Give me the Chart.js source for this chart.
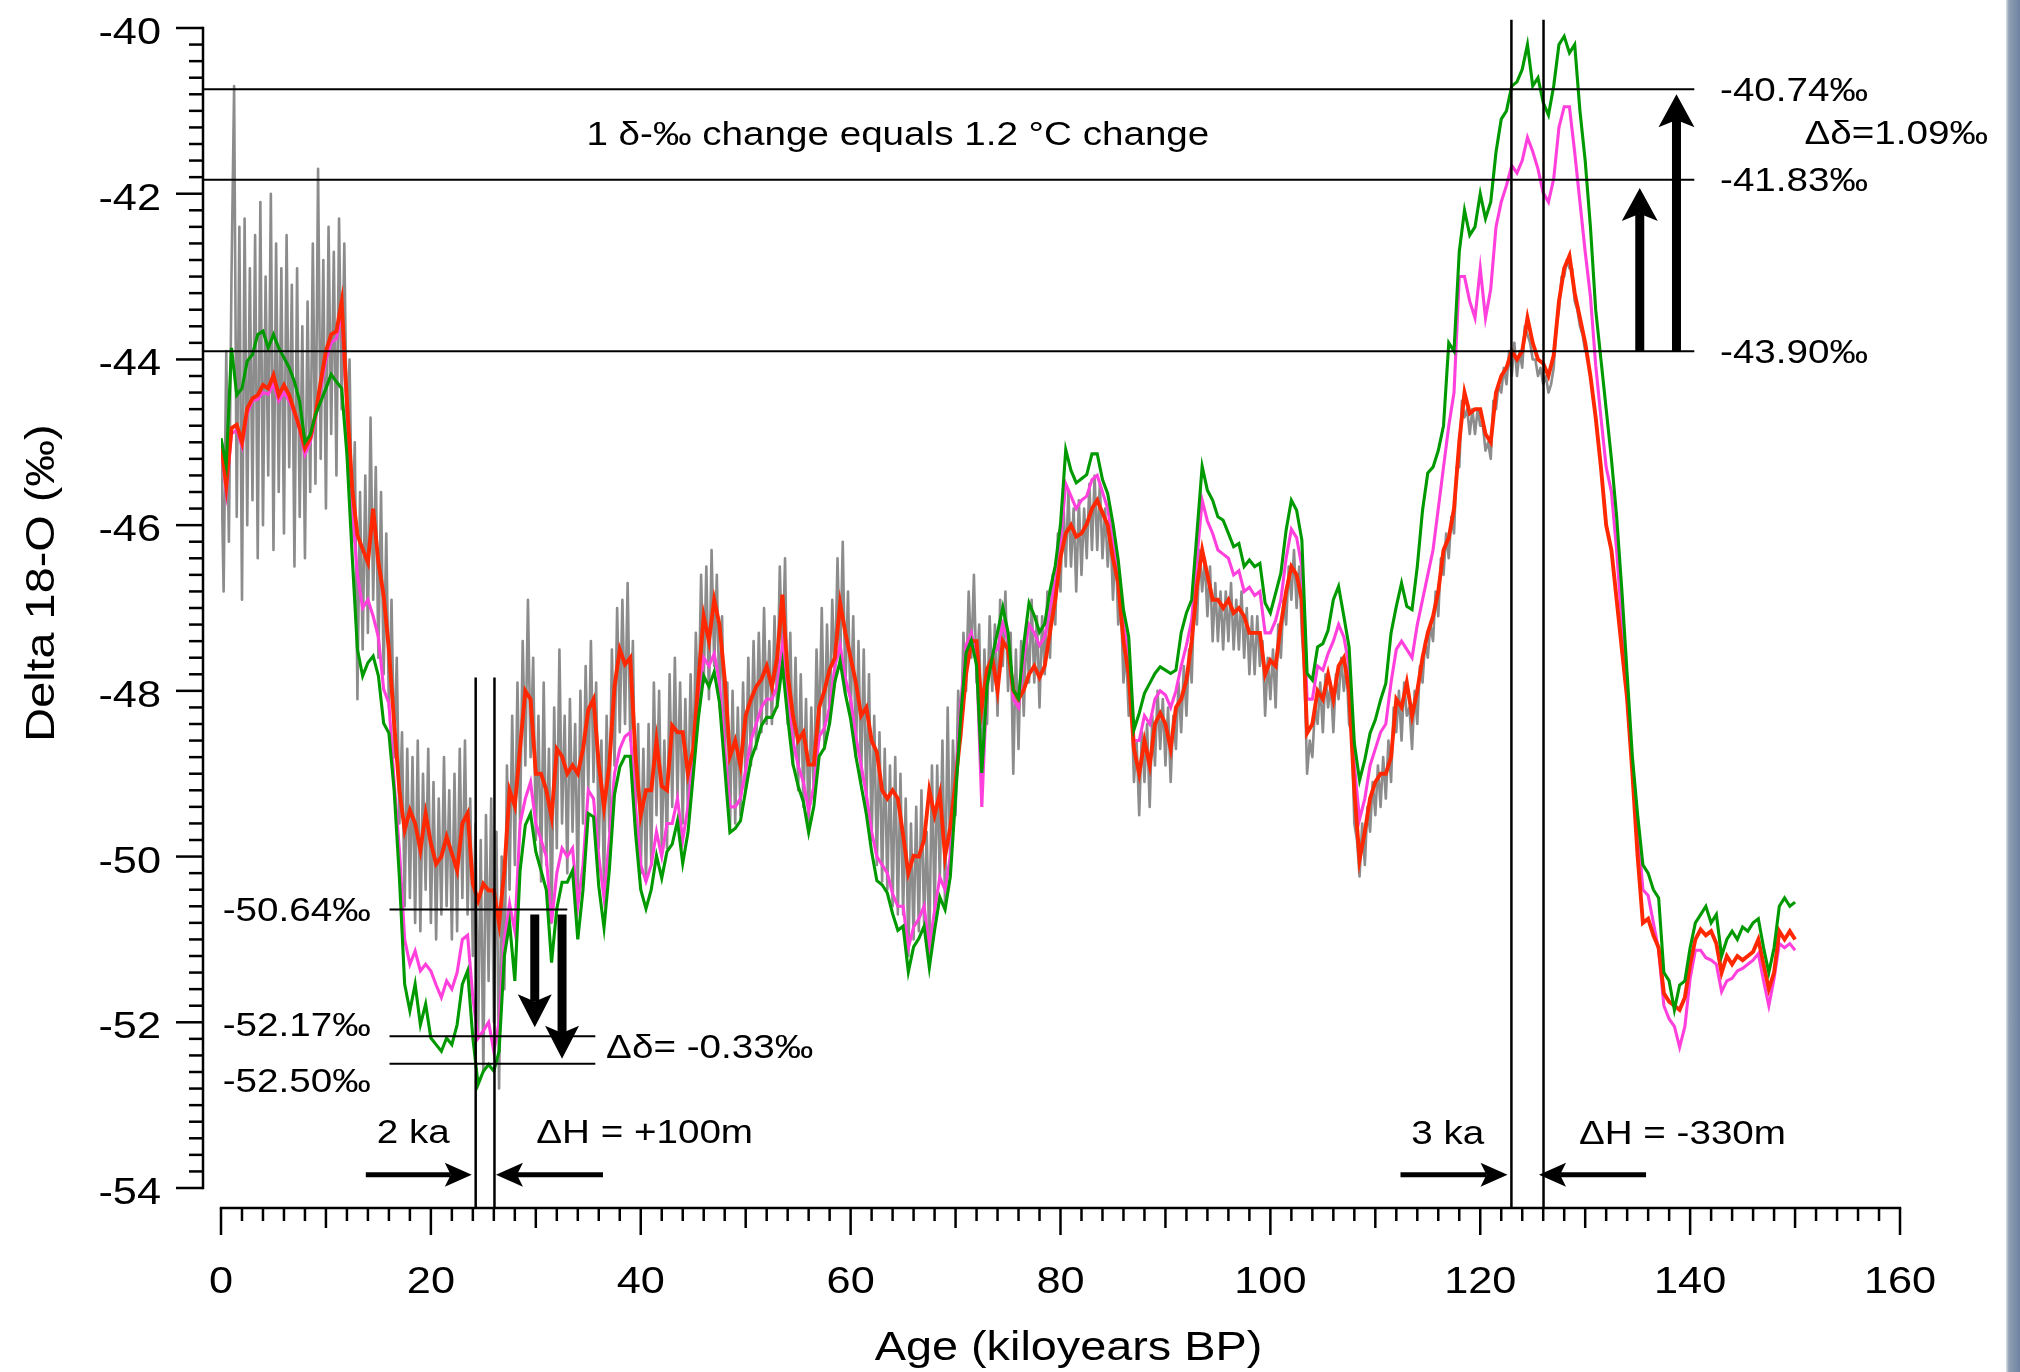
<!DOCTYPE html>
<html>
<head>
<meta charset="utf-8">
<title>Delta 18-O</title>
<script src="https://cdn.jsdelivr.net/npm/chart.js@4.4.1/dist/chart.umd.min.js"></script>
<style>
  html, body { margin: 0; padding: 0; background: #fff; }
  #wrap { position: relative; width: 2020px; height: 1372px; overflow: hidden; }
  #edge {
    position: absolute; top: 0; right: 0; width: 14px; height: 1372px;
    background: linear-gradient(to right, #dde2e8 0px, #8f9fb4 3px, #6f83a0 100%);
  }
</style>
</head>
<body>
<div id="wrap">
  <canvas id="deltaChart" width="2020" height="1372"></canvas>
  <div id="edge"></div>
</div>
<script>
// Amostragem das curvas (ka entre pontos)
const AGE_STEP = 0.5;
const RAW_STEP = 0.25;

// Curva vermelha (0 a 150 ka)
const redValues = [
  -45.0, -45.52, -44.83, -44.79, -45.0, -44.59, -44.47, -44.43, -44.31, -44.35,
  -44.19, -44.43, -44.31, -44.43, -44.63, -44.83, -45.07, -44.95, -44.67, -44.27,
  -43.9, -43.7, -43.66, -43.3, -44.51, -45.56, -46.12, -46.29, -46.45, -45.8,
  -46.45, -46.85, -47.5, -48.39, -49.2, -49.68, -49.44, -49.6, -49.92, -49.48,
  -49.84, -50.09, -50.0, -49.76, -49.96, -50.17, -49.6, -49.48, -50.33, -50.53,
  -50.33, -50.41, -50.41, -50.81, -50.17, -49.2, -49.39, -48.69, -48.0, -48.1,
  -49.0, -49.0, -49.2, -49.52, -48.7, -48.79, -49.0, -48.9, -49.0, -48.7,
  -48.23, -48.1, -48.88, -49.4, -48.9, -47.95, -47.5, -47.68, -47.6, -48.79,
  -49.5, -49.2, -49.2, -48.6, -49.15, -49.2, -48.42, -48.5, -48.5, -49.0,
  -48.7, -47.86, -47.1, -47.4, -46.9, -47.2, -47.86, -48.79, -48.6, -48.9,
  -48.3, -48.1, -47.95, -47.86, -47.7, -47.95, -47.6, -46.84, -47.8, -48.3,
  -48.6, -48.5, -48.89, -48.89, -48.2, -48.0, -47.74, -47.6, -46.94, -47.3,
  -47.6, -47.9, -48.3, -48.2, -48.6, -48.74, -49.2, -49.3, -49.2, -49.3,
  -49.74, -50.2, -49.99, -50.0, -49.8, -49.2, -49.5, -49.24, -50.0, -49.64,
  -49.1, -48.5, -47.8, -47.4, -47.4, -48.2, -47.74, -47.6, -48.0, -47.4,
  -47.5, -47.99, -48.1, -47.99, -47.8, -47.7, -47.84, -47.7, -47.29, -46.9,
  -46.39, -46.1, -46.0, -46.14, -46.1, -45.99, -45.8, -45.7, -45.85, -46.0,
  -46.4, -46.7, -47.4, -47.8, -48.7, -49.0, -48.6, -48.9, -48.4, -48.27,
  -48.4, -48.7, -48.2, -48.1, -47.87, -47.4, -46.74, -46.3, -46.6, -46.9,
  -46.9, -47.0, -46.9, -47.06, -47.0, -47.1, -47.3, -47.3, -47.3, -47.8,
  -47.63, -47.7, -47.2, -46.8, -46.5, -46.6, -46.9, -48.51, -48.4, -48.0,
  -48.1, -47.8, -48.1, -47.7, -47.6, -48.0, -49.2, -50.04, -49.7, -49.3,
  -49.1, -49.0, -49.0, -48.8, -48.1, -48.2, -47.9, -48.3, -48.0, -47.6,
  -47.3, -47.1, -46.8, -46.3, -46.15, -45.8, -45.0, -44.4, -44.65, -44.6,
  -44.6, -44.9, -45.0, -44.4, -44.2, -44.1, -43.9, -44.0, -43.9, -43.5,
  -43.8, -44.0, -44.05, -44.2, -43.95, -43.3, -42.9, -42.75, -43.2, -43.5,
  -43.8, -44.2, -44.7, -45.3, -46.0, -46.3, -46.9, -47.5, -48.1, -49.0,
  -50.0, -50.8, -50.75, -50.95, -51.1, -51.65, -51.75, -51.8, -51.85, -51.7,
  -51.3, -51.0, -50.88, -50.95, -50.9, -51.05, -51.4, -51.2, -51.3, -51.2,
  -51.25, -51.2, -51.15, -51.0, -51.3, -51.6, -51.4, -50.9, -51.0, -50.9,
  -51.0
];

// Curva rosa (0 a 150 ka)
const pinkValues = [
  -45.05, -45.6, -44.9, -44.85, -45.05, -44.65, -44.5, -44.48, -44.4, -44.42,
  -44.3, -44.5, -44.4, -44.5, -44.65, -44.85, -45.15, -45.0, -44.72, -44.35,
  -44.0, -43.8, -43.75, -43.45, -44.6, -45.8, -46.6, -47.0, -46.9, -47.1,
  -47.35, -47.98, -48.15, -49.1, -49.92, -51.0, -51.3, -51.14, -51.38, -51.3,
  -51.38, -51.55, -51.7, -51.5, -51.6, -51.4, -51.0, -50.95, -51.7, -52.19,
  -52.1, -52.0, -52.35, -52.0, -51.0, -50.57, -50.9, -49.6, -49.3, -49.1,
  -49.6, -49.8, -50.0, -50.8, -50.2, -49.9, -50.0, -49.9, -50.6, -50.1,
  -49.2, -49.3, -50.0, -50.5, -49.8, -49.0, -48.7, -48.55, -48.5, -49.4,
  -50.1, -50.3, -50.1, -49.7, -50.0, -49.6, -49.6, -49.3, -49.8, -49.4,
  -48.8, -48.1, -47.6, -47.7, -47.55, -47.9, -48.7, -49.4, -49.4, -49.3,
  -48.95, -48.6, -48.4, -48.2, -48.1, -48.1, -47.95, -47.45, -48.1, -48.6,
  -48.9, -49.1, -49.45, -49.15, -48.55, -48.45, -48.2, -47.7, -47.45, -47.85,
  -48.1, -48.55, -48.9, -49.25, -49.7, -50.0, -50.1, -50.2, -50.45, -50.6,
  -50.6, -51.1, -50.85, -50.75, -50.6, -51.1, -50.65, -50.25, -50.4, -50.0,
  -49.1, -48.15, -47.45, -47.3, -47.6, -49.4, -47.9, -47.55, -47.5, -47.2,
  -47.4, -48.1, -48.2, -47.6, -47.2, -47.3, -47.45, -47.35, -47.0, -46.7,
  -46.2, -45.5, -45.65, -45.8, -45.7, -45.65, -45.45, -45.4, -45.6, -45.8,
  -46.2, -46.6, -47.2, -47.55, -48.6, -48.6, -48.3, -48.4, -48.1, -48.0,
  -48.05, -48.2, -48.0, -47.7, -47.45, -47.15, -46.4, -45.7, -45.95, -46.1,
  -46.3, -46.35, -46.4, -46.6, -46.55, -46.8, -46.75, -46.85, -46.8, -47.3,
  -47.3, -47.15, -46.9, -46.4, -46.05, -46.15, -46.5, -48.1, -48.1, -47.7,
  -47.75, -47.55, -47.4, -47.2, -47.35, -47.7, -48.9, -49.55, -49.3, -48.9,
  -48.7, -48.5, -48.4, -47.9, -47.5, -47.4, -47.5, -47.6, -47.2, -46.9,
  -46.6, -46.3, -45.8, -45.3, -44.8, -44.4, -43.0, -43.0, -43.3, -43.5,
  -42.9, -43.5, -43.15, -42.4, -42.1, -41.9, -41.66, -41.75, -41.6, -41.32,
  -41.49, -41.7, -41.99, -42.1, -41.82, -41.2, -40.95, -40.95, -41.5, -42.1,
  -42.7, -43.24, -44.07, -44.7, -45.3, -45.6, -46.31, -47.2, -48.1, -48.9,
  -49.64, -50.4, -50.47, -50.8, -51.13, -51.8, -51.96, -52.05, -52.3, -52.05,
  -51.47, -51.13, -51.13, -51.22, -51.25, -51.3, -51.63, -51.5, -51.47, -51.38,
  -51.35, -51.3, -51.25, -51.17, -51.5, -51.8, -51.47, -51.05, -51.1, -51.05,
  -51.13
];

// Curva verde (0 a 150 ka)
const greenValues = [
  -44.95, -45.28, -43.86, -44.43, -44.35, -44.02, -43.94, -43.7, -43.66, -43.86,
  -43.7, -43.86, -43.98, -44.1, -44.27, -44.51, -45.0, -44.91, -44.67, -44.51,
  -44.35, -44.18, -44.27, -44.35, -45.15, -46.37, -47.5, -47.82, -47.66, -47.58,
  -47.82, -48.39, -48.51, -49.2, -50.25, -51.54, -51.86, -51.54, -52.03, -51.78,
  -52.19, -52.27, -52.35, -52.19, -52.27, -52.03, -51.54, -51.38, -52.19, -52.75,
  -52.59, -52.51, -52.59, -52.35, -51.2, -50.8, -51.5, -50.17, -49.62, -49.48,
  -49.94, -50.17, -50.4, -51.28, -50.63, -50.31, -50.31, -50.17, -51.0, -50.4,
  -49.48, -49.52, -50.36, -50.86, -50.17, -49.25, -48.92, -48.79, -48.79, -49.71,
  -50.4, -50.63, -50.4, -49.99, -50.26, -49.94, -49.85, -49.57, -50.08, -49.71,
  -49.02, -48.32, -47.82, -47.95, -47.77, -48.14, -48.92, -49.71, -49.66, -49.57,
  -49.2, -48.83, -48.65, -48.42, -48.32, -48.32, -48.18, -47.68, -48.32, -48.88,
  -49.15, -49.34, -49.71, -49.39, -48.79, -48.69, -48.39, -47.89, -47.64, -48.04,
  -48.34, -48.79, -49.14, -49.49, -49.94, -50.29, -50.34, -50.44, -50.69, -50.89,
  -50.84, -51.39, -51.09, -50.99, -50.84, -51.34, -50.89, -50.49, -50.64, -50.24,
  -49.29, -48.29, -47.54, -47.39, -47.69, -48.99, -47.94, -47.59, -47.29, -46.99,
  -47.29, -47.99, -48.09, -47.44, -46.94, -47.09, -47.29, -47.19, -46.79, -46.49,
  -45.99, -45.09, -45.34, -45.49, -45.44, -45.39, -45.14, -45.14, -45.45, -45.62,
  -45.98, -46.42, -47.02, -47.35, -48.47, -48.27, -48.03, -47.91, -47.79, -47.71,
  -47.75, -47.79, -47.75, -47.3, -47.06, -46.9, -46.1, -45.29, -45.58, -45.7,
  -45.9, -45.94, -46.1, -46.26, -46.22, -46.5, -46.42, -46.5, -46.46, -46.94,
  -47.06, -46.82, -46.58, -46.06, -45.7, -45.82, -46.18, -47.79, -47.87, -47.47,
  -47.43, -47.27, -46.9, -46.74, -47.1, -47.47, -48.63, -49.08, -48.83, -48.51,
  -48.35, -48.11, -47.91, -47.3, -46.98, -46.7, -46.98, -47.02, -46.5, -45.82,
  -45.37, -45.3, -45.1, -44.8, -43.8, -43.9, -42.7, -42.2, -42.5, -42.4,
  -42.0, -42.3, -42.1, -41.5, -41.1, -41.0, -40.7, -40.65, -40.5, -40.2,
  -40.7, -40.6, -40.9, -41.05, -40.7, -40.2, -40.1, -40.3, -40.2, -41.0,
  -41.6, -42.4, -43.4, -44.0, -44.6, -45.2, -45.9, -46.8, -47.8, -48.8,
  -49.5, -50.1, -50.2, -50.4, -50.5, -51.4, -51.5, -51.85, -51.55, -51.5,
  -51.1, -50.8, -50.7, -50.6, -50.8, -50.7, -51.2, -51.0, -50.9, -51.0,
  -50.85, -50.9, -50.8, -50.75, -51.1, -51.4, -51.1, -50.6, -50.5, -50.6,
  -50.55
];

// Curva cinza, dados brutos (0 a 130 ka)
const grayValues = [
  -45.0, -46.8, -43.9, -46.2, -43.0, -40.7, -45.9, -42.4, -46.9, -42.3, -46.0, -42.9, -45.7, -42.5, -46.4, -42.1, -46.0, -43.0, -45.4, -42.0,
  -46.3, -42.6, -45.6, -42.9, -46.1, -42.5, -45.3, -43.1, -46.5, -42.9, -45.9, -43.6, -46.4, -43.3, -45.6, -42.6, -45.5, -41.7, -45.2, -42.8,
  -45.8, -42.4, -44.9, -42.7, -45.4, -42.3, -44.6, -42.6, -45.0, -44.0, -46.2, -45.0, -48.1, -45.6, -47.5, -45.4, -47.3, -44.7, -46.9, -45.3,
  -47.6, -45.6, -47.8, -46.1, -48.2, -46.9, -48.8, -47.6, -49.6, -48.5, -50.6, -48.7, -50.5, -48.8, -50.8, -48.6, -50.9, -49.0, -50.4, -48.7,
  -50.8, -49.1, -51.0, -49.3, -50.7, -48.8, -50.6, -49.2, -51.0, -49.0, -50.9, -48.7, -50.5, -48.6, -50.7, -49.3, -51.2, -49.6, -52.2, -49.8,
  -52.6, -49.5, -51.5, -49.3, -52.0, -49.7, -52.8, -50.0, -51.6, -48.9, -50.4, -48.3, -50.1, -47.9, -49.6, -47.4, -48.9, -46.9, -48.8, -47.6,
  -49.8, -48.3, -50.3, -47.9, -50.1, -48.7, -50.8, -48.2, -49.9, -47.5, -49.6, -48.3, -50.2, -48.1, -49.7, -48.4, -50.4, -48.0, -49.6, -47.7,
  -49.2, -47.4, -49.1, -47.9, -49.9, -48.6, -50.4, -48.3, -49.7, -47.5, -48.9, -47.0, -48.5, -46.9, -48.4, -46.7, -48.6, -47.4, -49.6, -48.4,
  -50.2, -48.7, -50.3, -48.4, -50.1, -47.9, -49.5, -48.0, -49.9, -48.6, -49.9, -47.8, -49.4, -47.6, -49.3, -47.9, -49.6, -48.1, -49.5, -47.8,
  -49.0, -47.3, -48.3, -46.6, -47.9, -46.5, -48.1, -46.3, -47.7, -46.6, -48.2, -47.1, -48.9, -47.9, -49.7, -48.0, -49.6, -48.2, -49.5, -47.9,
  -49.2, -47.6, -48.9, -47.4, -48.7, -47.3, -48.5, -47.0, -48.4, -47.4, -48.4, -47.1, -48.2, -46.5, -47.7, -46.4, -48.4, -47.3, -48.9, -47.6,
  -49.2, -47.8, -49.4, -48.1, -49.7, -48.2, -49.3, -47.5, -48.6, -47.0, -48.7, -47.2, -48.4, -46.9, -47.9, -46.4, -47.7, -46.2, -48.0, -46.8,
  -48.3, -47.1, -48.8, -47.4, -49.1, -47.5, -49.4, -47.8, -49.8, -48.3, -50.1, -48.5, -50.3, -48.7, -50.4, -48.9, -50.6, -48.8, -50.7, -49.0,
  -50.7, -49.3, -51.2, -49.6, -51.0, -49.4, -50.9, -49.2, -50.8, -49.7, -51.1, -48.9, -50.7, -48.9, -50.3, -48.6, -50.6, -48.2, -50.2, -48.6,
  -49.5, -48.0, -48.6, -47.3, -48.0, -46.8, -47.6, -46.6, -47.9, -47.2, -49.1, -47.5, -48.4, -47.1, -48.0, -47.2, -48.3, -46.9, -47.7, -46.8,
  -48.0, -47.3, -49.0, -47.5, -48.7, -47.4, -48.3, -47.2, -47.9, -46.9, -47.9, -47.1, -48.2, -47.1, -47.8, -46.8, -47.6, -46.6, -47.2, -46.1,
  -46.8, -45.6, -46.5, -45.6, -46.5, -45.8, -46.8, -45.7, -46.6, -45.8, -46.4, -45.5, -46.3, -45.4, -46.3, -45.5, -46.4, -45.8, -46.5, -46.0,
  -46.9, -46.2, -47.2, -46.9, -47.9, -47.5, -48.3, -48.1, -49.1, -48.6, -49.5, -48.5, -49.1, -48.4, -49.4, -48.3, -48.9, -48.0, -48.7, -48.1,
  -48.9, -48.2, -49.1, -48.3, -48.7, -47.9, -48.5, -47.7, -48.3, -47.5, -47.9, -46.8, -47.2, -46.3, -46.8, -46.4, -47.1, -46.5, -47.4, -46.7,
  -47.4, -46.8, -47.5, -46.8, -47.4, -46.7, -47.5, -46.9, -47.5, -46.8, -47.6, -47.0, -47.8, -47.1, -47.8, -47.1, -47.7, -47.4, -48.3, -47.6,
  -48.1, -47.5, -48.2, -47.2, -47.6, -46.9, -47.2, -46.5, -46.9, -46.3, -47.0, -46.5, -47.3, -47.8, -49.0, -48.6, -48.8, -48.2, -48.4, -47.9,
  -48.5, -47.8, -48.2, -47.9, -48.5, -47.8, -48.1, -47.6, -48.0, -47.7, -48.4, -48.5, -49.6, -49.8, -50.24, -49.6, -50.1, -49.4, -49.7, -49.1,
  -49.5, -48.9, -49.4, -48.8, -49.3, -48.6, -49.1, -48.2, -48.5, -48.0, -48.6, -47.9, -48.3, -48.2, -48.7, -48.0, -48.4, -47.7, -47.9, -47.4,
  -47.6, -47.2, -47.4, -46.8, -47.1, -46.4, -46.6, -46.1, -46.4, -45.9, -46.1, -45.3, -45.3, -44.5, -44.7, -44.6, -44.9, -44.6, -44.9, -44.6,
  -44.8, -44.8, -45.1, -45.0, -45.2, -44.5, -44.6, -44.3, -44.4, -44.1, -44.3, -43.9, -44.2, -43.8, -44.2, -43.9, -44.1, -43.6, -43.7, -43.8,
  -44.0, -44.0, -44.2, -44.1, -44.3, -44.2, -44.4, -44.3, -44.1, -43.6, -43.4, -43.0, -43.0, -42.8, -42.9, -42.9, -43.3, -43.4, -43.6, -43.7,
  -43.9
];

// Eixos
const yTickLabels = [-40, -42, -44, -46, -48, -50, -52, -54];
const xTickLabels = [0, 20, 40, 60, 80, 100, 120, 140, 160];

// Níveis de referência (direita) e níveis glaciais (esquerda)
const levelValues = [-40.74, -41.83, -43.90];
const levelLabels = ["-40.74‰", "-41.83‰", "-43.90‰"];
const glacialValues = [-50.64, -52.17, -52.50];
const glacialEnds = [33.0, 35.67, 35.67];
const glacialLabels = ["-50.64‰", "-52.17‰", "-52.50‰"];
const glacialLabelAt = [-50.64, -52.02, -52.70];

const TEXT_STRETCH = 1.17;
const FONT = '"Liberation Sans", Arial, Helvetica, sans-serif';

function drawText(ctx, text, x, y, size, align) {
  ctx.save();
  ctx.font = size + "px " + FONT;
  ctx.fillStyle = "#000";
  ctx.textAlign = align;
  ctx.textBaseline = "alphabetic";
  ctx.translate(x, y);
  ctx.scale(TEXT_STRETCH, 1);
  ctx.fillText(text, 0, 0);
  ctx.restore();
}

// texto centrado verticalmente pela altura das maiúsculas
function drawMidText(ctx, text, x, yMid, size, align) {
  drawText(ctx, text, x, yMid + size * 0.358, size, align);
}

function drawLine(ctx, x1, y1, x2, y2) {
  ctx.beginPath();
  ctx.moveTo(x1, y1);
  ctx.lineTo(x2, y2);
  ctx.stroke();
}

// seta com ponta farpada
function drawArrow(ctx, x1, y1, x2, y2, shaft, headLen, headWidth) {
  const len = Math.hypot(x2 - x1, y2 - y1);
  const ux = (x2 - x1) / len, uy = (y2 - y1) / len;
  const nx = -uy, ny = ux;
  const bx = x2 - ux * headLen, by = y2 - uy * headLen;
  const mx = x2 - ux * headLen * 0.78, my = y2 - uy * headLen * 0.78;
  ctx.save();
  ctx.lineWidth = shaft;
  ctx.lineCap = "butt";
  drawLine(ctx, x1, y1, mx, my);
  ctx.beginPath();
  ctx.moveTo(x2, y2);
  ctx.lineTo(bx + nx * headWidth / 2, by + ny * headWidth / 2);
  ctx.lineTo(mx, my);
  ctx.lineTo(bx - nx * headWidth / 2, by - ny * headWidth / 2);
  ctx.closePath();
  ctx.fill();
  ctx.restore();
}

// Eixos destacados do gráfico, no estilo do original
const detachedAxes = {
  id: "detachedAxes",
  afterDraw(chart) {
    const { ctx, scales: { x, y } } = chart;
    const axisX = x.left - 18;
    const axisY = y.bottom + 20;
    ctx.save();
    ctx.strokeStyle = "#000";
    ctx.lineWidth = 2.5;
    ctx.lineCap = "butt";

    drawLine(ctx, axisX, y.getPixelForValue(-40) - 1.2, axisX, y.getPixelForValue(-54) + 1.2);
    for (let i = 0; i <= 70; i++) {
      const py = y.getPixelForValue(-54 + i * 0.2);
      const len = i % 10 === 0 ? 27 : 14;
      drawLine(ctx, axisX - len, py, axisX, py);
    }

    drawLine(ctx, x.getPixelForValue(0) - 1.2, axisY, x.getPixelForValue(160) + 1.2, axisY);
    for (let k = 0; k <= 80; k++) {
      const v = k * 2;
      const px = x.getPixelForValue(v);
      const len = v % 20 === 0 ? 27 : v % 10 === 0 ? 20 : 13;
      drawLine(ctx, px, axisY, px, axisY + len);
    }

    yTickLabels.forEach((v) => drawText(ctx, String(v), axisX - 42, y.getPixelForValue(v) + 16, 37, "right"));
    xTickLabels.forEach((v) => drawText(ctx, String(v), x.getPixelForValue(v), axisY + 85, 37, "center"));

    drawText(ctx, "Age (kiloyears BP)", (x.left + x.right) / 2 + 8, axisY + 152, 40, "center");

    ctx.save();
    ctx.translate(54, (y.top + y.bottom) / 2 - 25);
    ctx.rotate(-Math.PI / 2);
    drawText(ctx, "Delta 18-O (‰)", 0, 0, 40, "center");
    ctx.restore();

    ctx.restore();
  },
};

// Linhas, setas e textos de anotação
const annotations = {
  id: "annotations",
  afterDatasetsDraw(chart) {
    const { ctx, scales: { x, y } } = chart;
    const px = (v) => x.getPixelForValue(v);
    const py = (v) => y.getPixelForValue(v);
    const axisX = x.left - 18;
    const axisY = y.bottom + 20;
    ctx.save();
    ctx.strokeStyle = "#000";
    ctx.fillStyle = "#000";

    // níveis de referência
    ctx.lineWidth = 2;
    levelValues.forEach((v, i) => {
      drawLine(ctx, axisX, py(v), px(140.4), py(v));
      drawMidText(ctx, levelLabels[i], px(142.85), py(v), 33, "left");
    });
    drawMidText(ctx, "Δδ=1.09‰", px(150.9), py(-41.26), 33, "left");
    drawMidText(ctx, "1 δ-‰ change equals 1.2 °C change", px(64.5), py(-41.27), 33, "center");

    // níveis glaciais
    glacialValues.forEach((v, i) => {
      drawLine(ctx, px(16.06), py(v), px(glacialEnds[i]), py(v));
      drawMidText(ctx, glacialLabels[i], px(14.27), py(glacialLabelAt[i]), 33, "right");
    });
    drawMidText(ctx, "Δδ= -0.33‰", px(36.7), py(-52.285), 33, "left");

    // pares de linhas verticais
    ctx.lineWidth = 2.5;
    [24.27, 26.06].forEach((a) => drawLine(ctx, px(a), py(-47.84), px(a), axisY));
    [122.97, 126.03].forEach((a) => drawLine(ctx, px(a), py(-39.9), px(a), axisY));

    // setas verticais
    drawArrow(ctx, px(135.2), py(-43.90), px(135.2), py(-41.93), 9, 33, 36);
    drawArrow(ctx, px(138.7), py(-43.90), px(138.7), py(-40.80), 9, 33, 36);
    drawArrow(ctx, px(29.9), py(-50.70), px(29.9), py(-52.06), 9, 33, 34);
    drawArrow(ctx, px(32.5), py(-50.70), px(32.5), py(-52.44), 9, 33, 34);

    // setas horizontais
    const ay = py(-53.84);
    drawArrow(ctx, px(13.8), ay, px(23.9), ay, 5, 27, 24);
    drawArrow(ctx, px(36.4), ay, px(26.2), ay, 5, 27, 24);
    drawArrow(ctx, px(112.4), ay, px(122.6), ay, 5, 27, 24);
    drawArrow(ctx, px(135.8), ay, px(125.6), ay, 5, 27, 24);

    drawMidText(ctx, "2 ka", px(18.32), py(-53.32), 33, "center");
    drawMidText(ctx, "ΔH = +100m", px(30.04), py(-53.32), 33, "left");
    drawMidText(ctx, "3 ka", px(116.9), py(-53.33), 33, "center");
    drawMidText(ctx, "ΔH = -330m", px(129.4), py(-53.33), 33, "left");

    ctx.restore();
  },
};

const toPoints = (values, step) => values.map((v, i) => ({ x: i * step, y: v }));

const lineStyle = { pointRadius: 0, tension: 0, fill: false };

const deltaChart = new Chart(document.getElementById("deltaChart"), {
  type: "line",
  data: {
    datasets: [
      { ...lineStyle, label: "verde", data: toPoints(greenValues, AGE_STEP), borderColor: "#009a00", borderWidth: 3.1 },
      { ...lineStyle, label: "vermelho", data: toPoints(redValues, AGE_STEP), borderColor: "#ff2800", borderWidth: 3.9 },
      { ...lineStyle, label: "rosa", data: toPoints(pinkValues, AGE_STEP), borderColor: "#ff40dc", borderWidth: 3.1 },
      { ...lineStyle, label: "cinza", data: toPoints(grayValues, RAW_STEP), borderColor: "#8c8c8c", borderWidth: 2.6, borderJoinStyle: "round" },
    ],
  },
  options: {
    responsive: false,
    devicePixelRatio: 1,
    animation: false,
    layout: { padding: { left: 221, right: 120, top: 28, bottom: 184 } },
    plugins: { legend: { display: false }, tooltip: { enabled: false } },
    scales: {
      x: { type: "linear", min: 0, max: 160, display: false },
      y: { type: "linear", min: -54, max: -40, display: false },
    },
  },
  plugins: [annotations, detachedAxes],
});
</script>
</body>
</html>
